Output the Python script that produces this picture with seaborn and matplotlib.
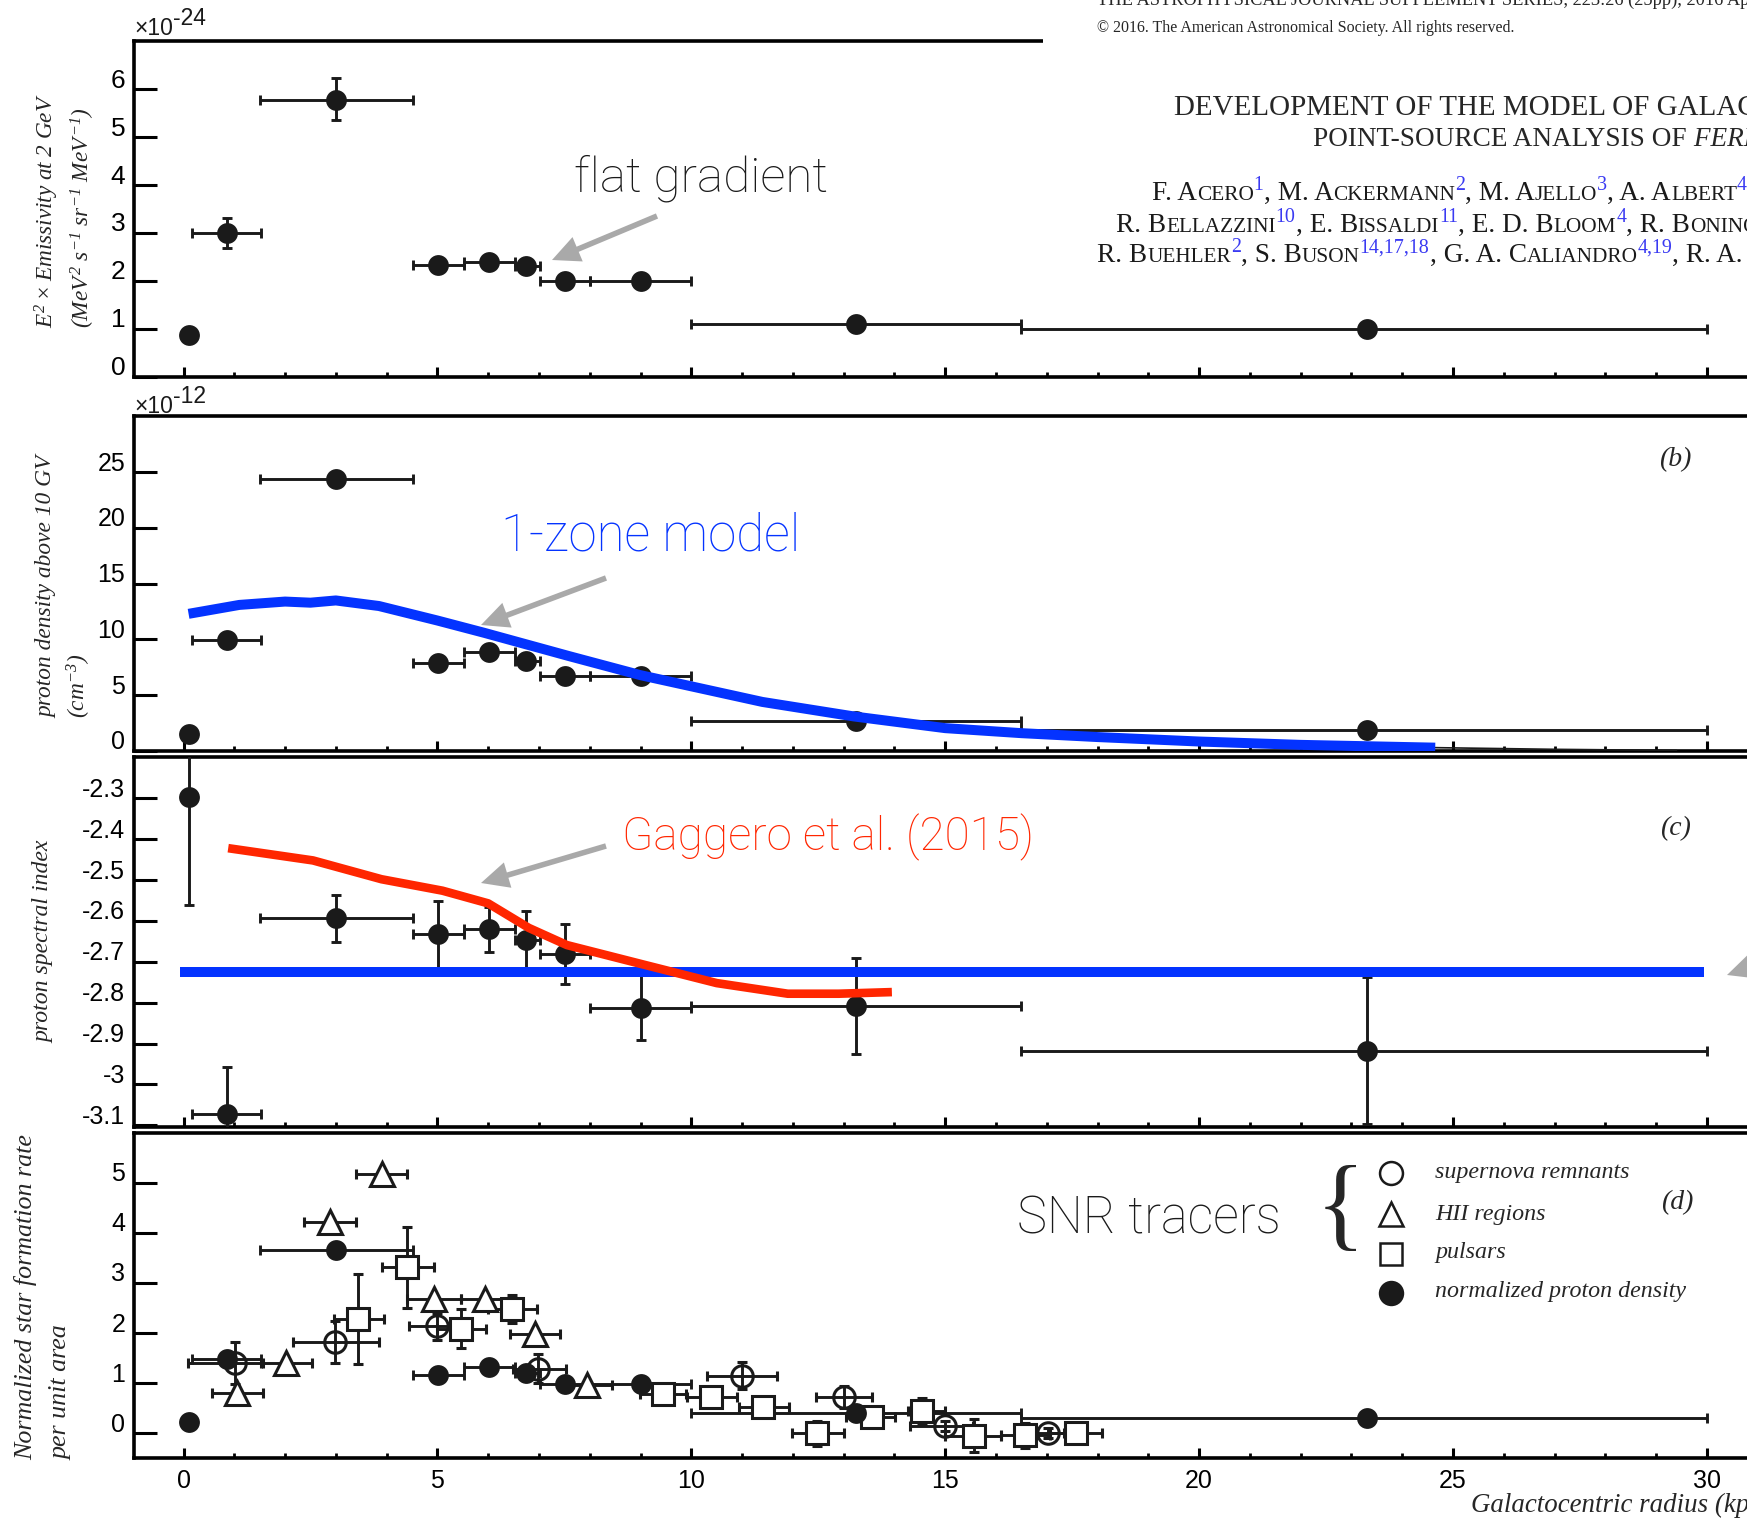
import numpy as np
import pandas as pd
import matplotlib
matplotlib.use("Agg")
import matplotlib.pyplot as plt
import seaborn as sns
from matplotlib.ticker import MultipleLocator, NullLocator
from matplotlib.transforms import ScaledTranslation
from matplotlib.patches import Rectangle, FancyArrowPatch
from matplotlib.lines import Line2D

# ---------------- data ----------------
radius = [0.11, 0.85, 3.01, 5.02, 6.01, 6.75, 7.51, 9.01, 13.24, 23.3]
ring_lo = [0.11, 0.17, 1.50, 4.52, 5.52, 6.52, 7.02, 8.01, 10.0, 16.5]
ring_hi = [0.11, 1.53, 4.52, 5.52, 6.52, 7.02, 8.01, 10.0, 16.5, 30.0]

emissivity = [0.87, 3.00, 5.78, 2.33, 2.40, 2.32, 2.00, 2.00, 1.10, 1.00]      # x1e-24
emissivity_err_lo = [0.0, 0.31, 0.42, 0.0, 0.0, 0.0, 0.0, 0.0, 0.0, 0.0]
emissivity_err_hi = [0.0, 0.31, 0.45, 0.0, 0.0, 0.0, 0.0, 0.0, 0.0, 0.0]

proton_density = [1.5, 9.95, 24.36, 7.92, 8.9, 8.1, 6.75, 6.7, 2.65, 1.9]    # x1e-12

spectral_index = [-2.296, -3.071, -2.594, -2.633, -2.620, -2.646, -2.681, -2.812, -2.808, -2.917]
spectral_index_err = [0.264, 0.113, 0.058, 0.083, 0.055, 0.070, 0.073, 0.080, 0.117, 0.180]

onezone_r = [0.1, 1.1, 2.0, 2.5, 3.0, 3.85, 5.0, 5.92, 7.6, 9.0, 10.0, 11.4, 13.2, 15.0, 16.5, 18.0, 20.0, 22.0, 24.65]
onezone_density = [12.3, 13.1, 13.4, 13.3, 13.5, 13.0, 11.7, 10.6, 8.5, 6.8, 5.8, 4.4, 3.1, 2.05, 1.6, 1.25, 0.85, 0.55, 0.3]
onezone_tail_r = [24.65, 27.0, 29.4]
onezone_tail_density = [0.30, 0.15, 0.05]
onezone_index_r = [-0.07, 29.95]
onezone_index = [-2.725, -2.725]
gaggero_r = [0.88, 2.55, 3.9, 5.1, 6.0, 6.8, 7.55, 9.1, 10.5, 11.9, 12.9, 13.95]
gaggero_index = [-2.422, -2.452, -2.498, -2.526, -2.557, -2.617, -2.659, -2.708, -2.752, -2.778, -2.778, -2.774]

norm_density = [0.23, 1.49, 3.66, 1.16, 1.32, 1.21, 0.99, 0.99, 0.40, 0.30]

snr_r = [1.01, 2.98, 5.0, 6.98, 10.99, 13.0, 15.0, 17.02]
snr_v = [1.41, 1.82, 2.14, 1.29, 1.15, 0.73, 0.15, 0.01]
snr_lo = [0.08, 2.16, 4.45, 6.48, 10.30, 12.46, 14.30, 16.64]
snr_hi = [1.52, 3.85, 5.55, 7.53, 11.69, 13.55, 15.55, 17.34]
snr_err = [0.42, 0.42, 0.27, 0.29, 0.27, 0.22, 0.10, 0.10]

hii_r = [1.05, 2.02, 2.88, 3.90, 4.94, 5.93, 6.93, 7.95]
hii_v = [0.81, 1.41, 4.21, 5.18, 2.69, 2.69, 1.99, 0.96]
hii_lo = [0.56, 1.56, 2.38, 3.40, 4.41, 5.47, 6.43, 7.42]
hii_hi = [1.56, 2.53, 3.40, 4.41, 5.47, 6.48, 7.42, 8.44]

psr_r = [3.44, 4.41, 5.47, 6.47, 9.44, 10.39, 11.42, 12.48, 13.55, 14.55, 15.56, 16.58, 17.58]
psr_v = [2.28, 3.31, 2.09, 2.48, 0.79, 0.73, 0.52, 0.0, 0.33, 0.44, -0.05, -0.04, 0.0]
psr_lo = [2.97, 3.91, 5.00, 5.99, 8.98, 9.92, 10.94, 11.99, 13.05, 14.27, 15.00, 16.09, 17.07]
psr_hi = [3.95, 4.94, 5.95, 6.97, 9.90, 10.90, 11.93, 13.00, 14.02, 15.00, 16.09, 17.07, 18.09]
psr_err = [0.89, 0.81, 0.39, 0.28, 0.05, 0.05, 0.05, 0.25, 0.05, 0.27, 0.33, 0.25, 0.05]

ticks_a = [0, 1, 2, 3, 4, 5, 6]
ticks_b = [0, 5, 10, 15, 20, 25]
ticks_c = [-2.3, -2.4, -2.5, -2.6, -2.7, -2.8, -2.9, -3.0, -3.1]
labels_c = ["-2.3", "-2.4", "-2.5", "-2.6", "-2.7", "-2.8", "-2.9", "-3", "-3.1"]
ticks_d = [0, 1, 2, 3, 4, 5]
legend_labels = ["supernova remnants", "HII regions", "pulsars", "normalized proton density"]

# ---------------- style ----------------
sns.set_theme(style="ticks")
SANS = "Liberation Sans"
SERIF = "Liberation Serif"
THIN = ["Roboto"]
plt.rcParams.update({
    "font.family": [SANS, "DejaVu Sans"],
    "axes.unicode_minus": False,
    "mathtext.fontset": "custom",
    "mathtext.rm": "Liberation Serif:italic",
    "mathtext.it": "Liberation Serif:italic",
    "mathtext.bf": "Liberation Serif:italic:bold",
    "axes.edgecolor": "black",
    "xtick.color": "black",
    "ytick.color": "black",
    "axes.facecolor": "white",
    "figure.facecolor": "white",
})
BLUE = "#0433ff"
RED = "#ff2600"
GRAY = "#a9a9a9"
SUPBLUE = "#3a3af2"

W, H = 1747, 1518
fig = plt.figure(figsize=(W / 100, H / 100), dpi=100)
R = fig.canvas.get_renderer()

X0 = 183.5
PXK = 50.78
LEFT = 133.7
XMAX = 32.0
RIGHT = X0 + XMAX * PXK
DOT = 15


def frac_rect(l, t, r, b):
    return [l / W, 1 - b / H, (r - l) / W, (b - t) / H]


def ring_errorbars(ax, r, v, lo, hi, ylo=None, yhi=None):
    r = np.asarray(r, float)
    xerr = [r - np.asarray(lo), np.asarray(hi) - r]
    yerr = None if ylo is None else [ylo, yhi]
    ax.errorbar(r, v, xerr=xerr, yerr=yerr, fmt="none", ecolor="k",
                elinewidth=2.1, capsize=3.5, capthick=2.1, zorder=3)


def filled_dots(ax, r, v, ms=DOT):
    df = pd.DataFrame({"r": r, "v": v})
    sns.scatterplot(data=df, x="r", y="v", ax=ax, color="k", s=ms ** 2,
                    edgecolor="k", linewidth=0, zorder=4, legend=False)


def style(ax, yticks, ylabels, labsize=18, xlabels=False):
    ax.set_xlim((LEFT - X0) / PXK, XMAX)
    for s in ["top", "bottom", "left"]:
        ax.spines[s].set_linewidth(2.6)
        ax.spines[s].set_color("black")
    ax.spines["right"].set_visible(False)
    ax.xaxis.set_major_locator(MultipleLocator(5))
    ax.xaxis.set_minor_locator(MultipleLocator(1))
    ax.tick_params(axis="x", which="major", direction="in", length=7, width=2.2,
                   top=False, bottom=True, labelbottom=xlabels, labelsize=18, pad=8)
    ax.tick_params(axis="x", which="minor", direction="in", length=3.5, width=2.0,
                   top=False, bottom=True)
    ax.set_yticks(yticks)
    ax.set_yticklabels(ylabels)
    ax.yaxis.set_minor_locator(NullLocator())
    ax.tick_params(axis="y", direction="in", length=16.5, width=2.2, pad=6,
                   labelsize=labsize, left=True, right=False)
    ax.set_xlabel("")
    ax.set_ylabel("")
    ax.grid(False)


# ---------------- panel (a) ----------------
ax_a = fig.add_axes(frac_rect(LEFT, 41.3, RIGHT, 376.7))
ring_errorbars(ax_a, radius, emissivity, ring_lo, ring_hi, emissivity_err_lo, emissivity_err_hi)
filled_dots(ax_a, radius, emissivity)
ax_a.set_ylim(0, 7.0)
style(ax_a, ticks_a, [str(t) for t in ticks_a], labsize=19)

# ---------------- panel (b) ----------------
ax_b = fig.add_axes(frac_rect(LEFT, 416, RIGHT, 751))
ring_errorbars(ax_b, radius, proton_density, ring_lo, ring_hi)
filled_dots(ax_b, radius, proton_density)
sns.lineplot(x=onezone_tail_r, y=onezone_tail_density, ax=ax_b, color="k", lw=1.2,
             sort=False, estimator=None, zorder=4, legend=False)
sns.lineplot(x=onezone_r, y=onezone_density, ax=ax_b, color=BLUE, lw=7.2, sort=False,
             estimator=None, solid_capstyle="butt", zorder=5, legend=False)
ax_b.set_ylim(0, 30.04)
style(ax_b, ticks_b, [str(t) for t in ticks_b])

# ---------------- panel (c) ----------------
ax_c = fig.add_axes(frac_rect(LEFT, 757, RIGHT, 1127))
ring_errorbars(ax_c, radius, spectral_index, ring_lo, ring_hi, spectral_index_err, spectral_index_err)
filled_dots(ax_c, radius, spectral_index)
sns.lineplot(x=onezone_index_r, y=onezone_index, ax=ax_c, color=BLUE, lw=7.2, sort=False,
             estimator=None, solid_capstyle="butt", zorder=5, legend=False)
sns.lineplot(x=gaggero_r, y=gaggero_index, ax=ax_c, color=RED, lw=6.2, sort=False,
             estimator=None, solid_capstyle="butt", zorder=5, legend=False)
ax_c.set_ylim(-3.104, -2.199)
style(ax_c, ticks_c, labels_c)

# ---------------- panel (d) ----------------
ax_d = fig.add_axes(frac_rect(LEFT, 1133, RIGHT, 1458))
common = dict(ecolor="k", elinewidth=2.1, capsize=3.5, capthick=2.1, mec="k", mew=2.2, ls="none")
r = np.asarray(snr_r)
ax_d.errorbar(snr_r, snr_v, xerr=[r - np.asarray(snr_lo), np.asarray(snr_hi) - r], yerr=snr_err,
              fmt="o", ms=15.5, mfc="none", zorder=3, **common)
r = np.asarray(hii_r)
ax_d.errorbar(hii_r, hii_v, xerr=[r - np.asarray(hii_lo), np.asarray(hii_hi) - r],
              fmt="^", ms=17, mfc="white", zorder=3, **common)
r = np.asarray(psr_r)
ax_d.errorbar(psr_r, psr_v, xerr=[r - np.asarray(psr_lo), np.asarray(psr_hi) - r], yerr=psr_err,
              fmt="s", ms=16, mfc="white", zorder=3, **common)
ring_errorbars(ax_d, radius, norm_density, ring_lo, ring_hi)
filled_dots(ax_d, radius, norm_density)
ax_d.set_ylim(-0.49, 5.99)
style(ax_d, ticks_d, [str(t) for t in ticks_d], xlabels=True)

axes = [ax_a, ax_b, ax_c, ax_d]


# ---------------- text helpers ----------------
def fit(t, target, dim="w"):
    bb = t.get_window_extent(R)
    cur = bb.width if dim == "w" else bb.height
    t.set_fontsize(t.get_fontsize() * target / cur)
    return t.get_fontsize()


def ftext(x, y, s, **kw):
    kw.setdefault("zorder", 7)
    return fig.text(x / W, 1 - y / H, s, **kw)


def chain(x_px, base_px, pieces, family, scale=1.0, z=7):
    x = x_px
    arts = []
    for s, size, st, color, rise in pieces:
        t = fig.text(x / W, 1 - (base_px - rise * scale) / H, s, fontsize=size * scale,
                     family=family, style=st, color=color, ha="left", va="baseline", zorder=z)
        bb = t.get_window_extent(R)
        arts.append(t)
        x = bb.x1
    return arts


# scale multipliers (x10^n)
chain(134, 35, [("\u00d710", 16.5, "normal", "k", 0), ("-24", 16.5, "normal", "k", 10)], SANS)
chain(134, 413, [("\u00d710", 16.5, "normal", "k", 0), ("-12", 16.5, "normal", "k", 10)], SANS)

# y labels (rotated, bottom aligned)
def ylab(x, bottom, s, size=17, target=None):
    t = ftext(x, bottom, s, rotation=90, rotation_mode="anchor", ha="left", va="center",
              fontsize=size, family=SERIF, style="italic")
    if target:
        fit(t, target, "h")
    return t

ta = ylab(47, 328, r"$E^{2}\times Emissivity\ at\ 2\ GeV$", target=235)
ylab(83, 328, r"$(MeV^{2}\ s^{-1}\ sr^{-1}\ MeV^{-1})$", size=ta.get_fontsize())
tb = ylab(47, 718, "proton density above 10 GV", target=263)
ylab(79, 718, r"$(cm^{-3})$", size=tb.get_fontsize())
ylab(44, 1043, "proton spectral index", target=203)
td = ylab(26, 1460, "Normalized star formation rate", target=327)
ylab(62, 1460, "per unit area", size=td.get_fontsize())

tx = ftext(1471, 1512, "Galactocentric radius (kp", ha="left", va="baseline", fontsize=20,
           family=SERIF, style="italic")
fit(tx, 278)
tx.set_text("Galactocentric radius (kpc)")

for lab, (x, y) in zip(["(b)", "(c)", "(d)"], [(1675, 460), (1675, 829), (1677, 1203)]):
    ftext(x, y, lab, ha="center", va="center", fontsize=20, family=SERIF, style="italic")

# annotations
t = ftext(574, 192, "flat gradient", ha="left", va="baseline", fontsize=30, family=THIN,
          fontweight="light", color="k")
fit(t, 254)
t = ftext(501, 550, "1-zone model", ha="left", va="baseline", fontsize=30, family=THIN,
          fontweight="light", color=BLUE)
fit(t, 299)
t = ftext(622, 850, "Gaggero et al. (2015)", ha="left", va="baseline", fontsize=30, family=THIN,
          fontweight="light", color=RED)
fit(t, 412)
t = ftext(1017, 1233, "SNR tracers", ha="left", va="baseline", fontsize=36, family=THIN,
          fontweight="light", color="k")
fit(t, 264)


def arrow(tail, tip):
    fig.add_artist(FancyArrowPatch(
        posA=(tail[0] / W, 1 - tail[1] / H), posB=(tip[0] / W, 1 - tip[1] / H),
        transform=fig.transFigure,
        arrowstyle="simple,head_length=1.0,head_width=0.95,tail_width=0.2",
        mutation_scale=20, color=GRAY, lw=0, shrinkA=0, shrinkB=0, zorder=6))

arrow((657, 216), (552, 260))
arrow((606, 578), (481, 625))
arrow((606, 846), (481, 883))
arrow((1851, 933), (1727, 975))

# legend of panel (d)
ftext(1340, 1212, "{", ha="center", va="center", fontsize=74, family=SERIF)
leg_y = [1173, 1214, 1254, 1293]
leg_base = [1178, 1220, 1258, 1297]
leg_markers = [dict(marker="o", mfc="none"), dict(marker="^", mfc="white"),
               dict(marker="s", mfc="white"), dict(marker="o", mfc="k")]
leg_ms = [16.5, 17, 16.5, 16.5]
leg_texts = []
for y, yb, mk, ms, lab in zip(leg_y, leg_base, leg_markers, leg_ms, legend_labels):
    fig.add_artist(Line2D([1391 / W], [1 - y / H], transform=fig.transFigure, ls="none",
                          mec="k", mew=1.8, ms=ms, zorder=7, **mk))
    leg_texts.append(ftext(1435, yb, lab, ha="left", va="baseline", fontsize=16,
                           family=SERIF, style="italic"))
leg_size = fit(leg_texts[0], 195)
for txt in leg_texts:
    txt.set_fontsize(leg_size)

# ---------------- paper header overlay ----------------
fig.add_artist(Rectangle((1043 / W, 1 - 280 / H), (W - 1043) / W + 0.05, 280 / H + 0.05,
                         transform=fig.transFigure, fc="white", ec="none", zorder=5))

t = ftext(1097, 5, "THE ASTROPHYSICAL JOURNAL SUPPLEMENT SERIES, 223:26 (25pp), 2016 A",
          ha="left", va="baseline", fontsize=14, family=SERIF)
fit(t, 645)
t.set_text("THE ASTROPHYSICAL JOURNAL SUPPLEMENT SERIES, 223:26 (25pp), 2016 April")
t = ftext(1097, 31.5, "\u00a9 2016. The American Astronomical Society. All rights reserved.",
          ha="left", va="baseline", fontsize=11, family=SERIF)
fit(t, 418)

t1 = ftext(1174, 115, "DEVELOPMENT OF THE MODEL OF GALA", ha="left", va="baseline",
           fontsize=22, family=SERIF)
tsize = fit(t1, 563)
t1.set_text("DEVELOPMENT OF THE MODEL OF GALACTIC INTERSTELLAR EMISSION FOR STANDARD")
t2 = ftext(1313, 146, "POINT-SOURCE ANALYSIS OF", ha="left", va="baseline",
           fontsize=tsize, family=SERIF)
fit(t2, 373)
x2 = t2.get_window_extent(R).x1
ftext(x2, 146, " FERMI LARGE AREA TELESCOPE DATA", ha="left", va="baseline",
      fontsize=t2.get_fontsize(), family=SERIF, style="italic")

B, S, SP = 16.3, 12.7, 12.0
def author_pieces(items):
    out = []
    for kind, s in items:
        if kind == "B":
            out.append((s, B, "normal", "k", 0))
        elif kind == "S":
            out.append((s, S, "normal", "k", 0))
        else:
            out.append((s, SP, "normal", SUPBLUE, 8))
    return out

line1 = author_pieces([("B", "F. A"), ("S", "CERO"), ("P", "1"), ("B", ", M. A"), ("S", "CKERMANN"),
                       ("P", "2"), ("B", ", M. A"), ("S", "JELLO"), ("P", "3"), ("B", ", A. A"),
                       ("S", "LBERT"), ("P", "4"), ("B", ", L. B"), ("S", "ALDINI"), ("P", "5")])
line2 = author_pieces([("B", "R. B"), ("S", "ELLAZZINI"), ("P", "10"), ("B", ", E. B"), ("S", "ISSALDI"),
                       ("P", "11"), ("B", ", E. D. B"), ("S", "LOOM"), ("P", "4"), ("B", ", R. B"),
                       ("S", "ONINO"), ("P", "12,13"), ("B", ", E. B"), ("S", "OTTACINI"), ("P", "4")])
line3 = author_pieces([("B", "R. B"), ("S", "UEHLER"), ("P", "2"), ("B", ", S. B"), ("S", "USON"),
                       ("P", "14,17,18"), ("B", ", G. A. C"), ("S", "ALIANDRO"), ("P", "4,19"),
                       ("B", ", R. A. C"), ("S", "AMERON"), ("P", "4")])

arts = chain(1152, 200, line1, SERIF)
end = arts[11].get_window_extent(R).x1
scale = (1745 - 1152) / (end - 1152)
for a in arts:
    a.remove()
chain(1152, 200, line1, SERIF, scale=scale)
chain(1116, 232, line2, SERIF, scale=scale)
chain(1097, 262, line3, SERIF, scale=scale)

# shift y tick labels up slightly (as in the reference)
fig.canvas.draw()
off = ScaledTranslation(0, 0.11, fig.dpi_scale_trans)
for ax in axes:
    for tk in ax.yaxis.get_major_ticks():
        tk.label1.set_transform(tk.label1.get_transform() + off)

fig.savefig("out.png", dpi=100)
